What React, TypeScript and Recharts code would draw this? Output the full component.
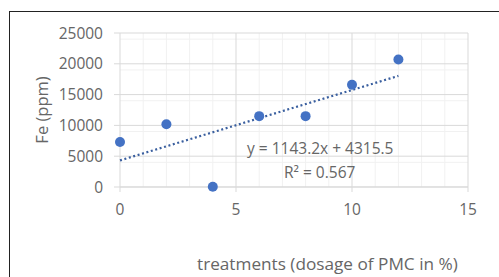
import {
  CartesianGrid,
  ComposedChart,
  Line,
  Scatter,
  XAxis,
  YAxis,
} from "recharts";

// dosage of PMC (%) and measured Fe (ppm)
const dosage = [0, 2, 4, 6, 8, 10, 12];
const fePpm = [7300, 10200, 50, 11500, 11500, 16600, 20700];

// linear trendline endpoints (y = 1143.2x + 4315.5)
const trendX = [0, 12];
const trendY = [4315.5, 18034];

const xTicks = [0, 5, 10, 15];
const yTicks = [0, 5000, 10000, 15000, 20000, 25000];
const xMinor = [1, 2, 3, 4, 6, 7, 8, 9, 11, 12, 13, 14];
const yMinor = [
  1000, 2000, 3000, 4000, 6000, 7000, 8000, 9000, 11000, 12000, 13000, 14000,
  16000, 17000, 18000, 19000, 21000, 22000, 23000, 24000,
];

const points = dosage.map((x, i) => ({ x, fe: fePpm[i] }));
const trend = trendX.map((x, i) => ({ x, trend: trendY[i] }));

const font = "'Open Sans', sans-serif";
const textGray = "#666";
const blue = "#4472c4";

const textStyle = {
  position: "absolute" as const,
  color: textGray,
  whiteSpace: "nowrap" as const,
  lineHeight: 1,
};

export default function App() {
  return (
    <div
      style={{
        position: "absolute",
        left: 0,
        top: 0,
        width: 499,
        height: 277,
        overflow: "hidden",
        background: "#fff",
        fontFamily: font,
      }}
    >
      <div
        style={{
          position: "absolute",
          left: 9,
          top: 11,
          width: 520,
          height: 300,
          border: "1.5px solid #222",
        }}
      />
      <div style={{ position: "absolute", left: 0, top: 0 }}>
        <ComposedChart
          width={499}
          height={277}
          margin={{ top: 33, right: 31, left: 50, bottom: 30 }}
        >
          <CartesianGrid
            horizontalValues={yMinor}
            verticalValues={xMinor}
            stroke="#f1f1f1"
            strokeWidth={1}
          />
          <CartesianGrid
            horizontalValues={yTicks}
            verticalValues={xTicks}
            stroke="#d9d9d9"
            strokeWidth={1}
          />
          <XAxis
            type="number"
            dataKey="x"
            domain={[0, 15]}
            ticks={xTicks}
            height={60}
            axisLine={{ stroke: "#d9d9d9" }}
            tickLine={{ stroke: "#d9d9d9" }}
            tickSize={5}
            tickMargin={12}
            tick={{ fill: textGray, fontSize: 15.5, fontFamily: font }}
            allowDuplicatedCategory={false}
          />
          <YAxis
            type="number"
            domain={[0, 25000]}
            ticks={yTicks}
            width={70}
            axisLine={false}
            tickLine={{ stroke: "#d9d9d9" }}
            tickSize={6}
            tickMargin={11}
            tick={{ fill: textGray, fontSize: 15.5, fontFamily: font }}
          />
          <Line
            data={trend}
            dataKey="trend"
            stroke="#3a5f9f"
            strokeWidth={2.2}
            strokeDasharray="2 2.6"
            dot={false}
            activeDot={false}
            isAnimationActive={false}
          />
          <Scatter
            data={points}
            dataKey="fe"
            fill={blue}
            shape={(p: any) => <circle cx={p.cx} cy={p.cy} r={5} fill={blue} />}
            isAnimationActive={false}
          />
        </ComposedChart>
      </div>
      <div
        style={{
          ...textStyle,
          left: 42,
          top: 110,
          fontSize: 16.5,
          transform: "translate(-50%, -50%) rotate(-90deg)",
        }}
      >
        Fe (ppm)
      </div>
      <div style={{ ...textStyle, left: 197, top: 255, fontSize: 17.2 }}>
        treatments (dosage of PMC in %)
      </div>
      <div style={{ ...textStyle, left: 247, top: 141, fontSize: 15.5 }}>
        y = 1143.2x + 4315.5
      </div>
      <div style={{ ...textStyle, left: 284, top: 165, fontSize: 15.5 }}>
        R² = 0.567
      </div>
    </div>
  );
}
